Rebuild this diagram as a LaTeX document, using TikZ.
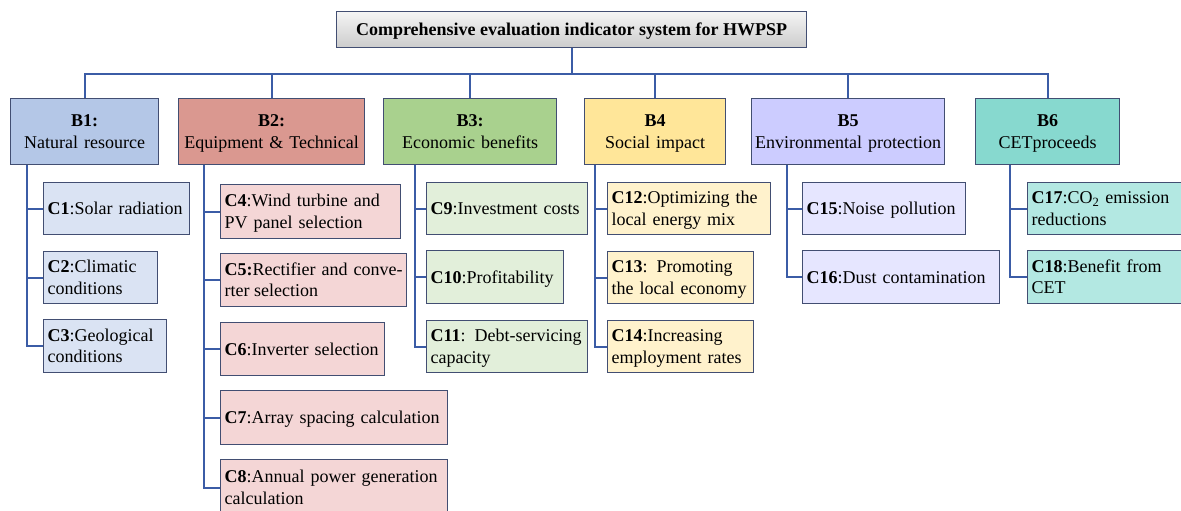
\documentclass[tikz,border=0pt]{standalone}
\usepackage{fontspec}
\setmainfont{Liberation Serif}
\definecolor{conn}{HTML}{3B5CA6}
\definecolor{bord}{HTML}{424E72}
\definecolor{fBa}{HTML}{B4C7E7}\definecolor{fCa}{HTML}{DAE3F3}
\definecolor{fBb}{HTML}{DA9890}\definecolor{fCb}{HTML}{F4D6D6}
\definecolor{fBc}{HTML}{A9D18E}\definecolor{fCc}{HTML}{E2EFDA}
\definecolor{fBd}{HTML}{FFE699}\definecolor{fCd}{HTML}{FFF2CC}
\definecolor{fBe}{HTML}{CCCCFF}\definecolor{fCe}{HTML}{E6E6FF}
\definecolor{fBf}{HTML}{87D9CF}\definecolor{fCf}{HTML}{B3E8E2}
\newcommand\sx{\rule[-4pt]{0pt}{20pt}}
\tikzset{
  base/.style={draw=bord, line width=1.2pt, font=\fontsize{18}{21.6}\selectfont, inner sep=0pt},
  bbox/.style={base, align=center, anchor=north west},
  cbox/.style={base, align=left, anchor=north west, inner xsep=4pt},
  topbox/.style={base, anchor=north west, top color=white!96!black, bottom color=white!80!black, font=\fontsize{18}{21.6}\selectfont\bfseries},
  link/.style={draw=conn, line width=2pt},
}
% name, x, y, w, h, fill, text
\newcommand\CB[7]{\node[cbox, fill=#6, minimum width=#4pt, minimum height=#5pt, text width=#4pt-8pt] (#1) at (#2,#3) {#7};}
\newcommand\BB[7]{\node[bbox, fill=#6, minimum width=#4pt, minimum height=#5pt, text width=#4pt] (#1) at (#2,#3) {#7};}
\begin{document}
\begin{tikzpicture}[x=1pt,y=-1pt]
\clip (0,0) rectangle (1181,511);
\fill[white] (0,0) rectangle (1181,511);
\node[topbox, minimum width=470pt, minimum height=36pt] (top) at (336,11) {\sx Comprehensive evaluation indicator system for HWPSP};
\BB{b1}{10}{98}{148}{66}{fBa}{\textbf{B1:}\sx\\Natural resource\sx}
\BB{b2}{178}{98}{186}{66}{fBb}{\textbf{B2:}\sx\\Equipment \& Technical\sx}
\BB{b3}{383}{98}{173}{66}{fBc}{\textbf{B3:}\sx\\Economic benefits\sx}
\BB{b4}{584}{98}{141}{66}{fBd}{\textbf{B4}\sx\\Social impact\sx}
\BB{b5}{751}{98}{193}{66}{fBe}{\textbf{B5}\sx\\Environmental protection\sx}
\BB{b6}{975}{98}{144}{66}{fBf}{\textbf{B6}\sx\\CETproceeds\sx}
% C boxes
\CB{c1}{43}{182}{146}{52}{fCa}{\textbf{C1}:Solar radiation\sx}
\CB{c2}{43}{251}{114}{52}{fCa}{\textbf{C2}:Climatic\sx\\conditions\sx}
\CB{c3}{43}{319}{123}{53}{fCa}{\textbf{C3}:Geological\sx\\conditions\sx}
\CB{c4}{220}{184}{180}{54}{fCb}{\textbf{C4}:Wind turbine and\sx\\PV panel selection\sx}
\node[cbox, fill=fCb, minimum width=186pt, minimum height=53pt, text width=178pt, align=justify] (c5) at (220,253) {\textbf{C5:}Rectifier and conve-\sx\linebreak rter selection\sx};
\CB{c6}{220}{322}{164}{53}{fCb}{\textbf{C6}:Inverter selection\sx}
\CB{c7}{220}{390}{227}{54}{fCb}{\textbf{C7}:Array spacing calculation\sx}
\CB{c8}{220}{459}{227}{56}{fCb}{\textbf{C8}:Annual power generation\sx\\calculation\sx}
\CB{c9}{426}{182}{161}{52}{fCc}{\textbf{C9}:Investment costs\sx}
\CB{c10}{426}{250}{137}{53}{fCc}{\textbf{C10}:Profitability\sx}
\CB{c11}{426}{320}{161}{52}{fCc}{\textbf{C11}: Debt-servicing\sx\\capacity\sx}
\CB{c12}{607}{182}{163}{52}{fCd}{\textbf{C12}:Optimizing the\sx\\local energy mix\sx}
\CB{c13}{607}{251}{146}{52}{fCd}{\textbf{C13}: Promoting\sx\\the local economy\sx}
\CB{c14}{607}{320}{146}{52}{fCd}{\textbf{C14}:Increasing\sx\\employment rates\sx}
\CB{c15}{802}{182}{163}{52}{fCe}{\textbf{C15}:Noise pollution\sx}
\CB{c16}{802}{250}{197}{53}{fCe}{\textbf{C16}:Dust contamination\sx}
\CB{c17}{1027}{182}{180}{52}{fCf}{\textbf{C17}:CO\textsubscript{2} emission\sx\\reductions\sx}
\CB{c18}{1027}{250}{180}{53}{fCf}{\textbf{C18}:Benefit from\sx\\CET\sx}
% bus
\coordinate (bus) at (0,74);
\draw[link] (top.south) -- (top.south |- bus);
\draw[link] (b1.north) -- (b1.north |- bus) -- (b6.north |- bus) -- (b6.north);
\foreach \b in {b2,b3,b4,b5} \draw[link] (\b.north) -- (\b.north |- bus);
% branches
\foreach \c in {c1,c2,c3} \draw[link] ([xshift=17pt]b1.south west) |- (\c.west);
\foreach \c in {c4,c5,c6,c7,c8} \draw[link] ([xshift=26pt]b2.south west) |- (\c.west);
\foreach \c in {c9,c10,c11} \draw[link] ([xshift=32pt]b3.south west) |- (\c.west);
\foreach \c in {c12,c13,c14} \draw[link] ([xshift=11pt]b4.south west) |- (\c.west);
\foreach \c in {c15,c16} \draw[link] ([xshift=36pt]b5.south west) |- (\c.west);
\foreach \c in {c17,c18} \draw[link] ([xshift=35pt]b6.south west) |- (\c.west);
\end{tikzpicture}
\end{document}
